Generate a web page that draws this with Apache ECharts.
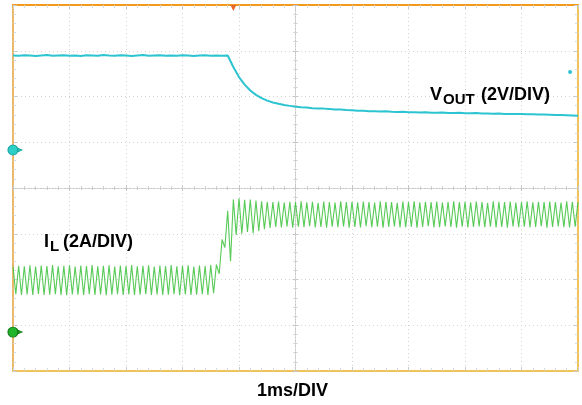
<!DOCTYPE html>
<html><head><meta charset="utf-8">
<script src="https://cdn.jsdelivr.net/npm/echarts@6/dist/echarts.min.js"></script>
<style>html,body{margin:0;padding:0;background:#fff}#c{width:582px;height:405px}</style>
</head><body><div id="c"></div>
<script>
const timeRangeMs = [0, 10];          // 10 divisions, 1 ms/DIV
const divRange = [-4, 4];             // 8 vertical divisions
const voutSampleMs = 0.1;
const voutVolts = [
  4.13,4.12,4.14,4.13,4.11,4.13,4.15,4.12,4.13,4.14,
  4.12,4.13,4.11,4.14,4.13,4.12,4.15,4.13,4.12,4.14,
  4.13,4.11,4.13,4.15,4.12,4.13,4.14,4.12,4.13,4.12,
  4.14,4.13,4.11,4.13,4.14,4.12,4.13,4.12,4.13,
  3.63,3.19,2.86,2.60,2.41,2.27,2.16,2.08,2.02,1.97,1.93,1.89,
  1.87,1.86,1.83,1.82,1.81,1.79,1.77,1.77,1.75,1.74,
  1.72,1.72,1.70,1.69,1.68,1.69,1.67,1.66,1.67,1.65,
  1.65,1.64,1.65,1.63,1.63,1.64,1.62,1.62,1.63,1.61,
  1.61,1.62,1.60,1.60,1.59,1.60,1.58,1.58,1.57,1.58,
  1.56,1.56,1.55,1.55,1.54,1.53,1.53,1.52,1.51,1.50
];
const ilSampleMs = 0.05;
const ilAmps = [
  2.86,1.66,2.90,1.62,2.88,1.65,2.92,1.63,2.87,1.67,
  2.91,1.62,2.89,1.64,2.93,1.66,2.88,1.63,2.90,1.61,
  2.92,1.65,2.87,1.64,2.91,1.62,2.89,1.66,2.93,1.63,
  2.88,1.65,2.90,1.61,2.92,1.64,2.87,1.66,2.91,1.63,
  2.89,1.65,2.93,1.62,2.88,1.64,2.90,1.66,2.92,1.63,
  2.87,1.65,2.91,1.62,2.89,1.64,2.93,1.66,2.88,1.61,
  2.90,1.65,2.92,1.63,2.87,1.64,2.91,1.66,2.89,1.62,
  2.93,1.70,
  2.95,2.55,4.05,3.70,5.30,3.10,5.80,4.25,5.85,4.30,
  5.78,4.38,5.80,4.32,5.75,4.42,5.72,4.50,5.70,4.55,
  5.68,4.60,5.71,4.58,5.66,4.62,5.70,4.57,5.69,4.61,
  5.72,4.59,5.67,4.63,5.70,4.58,5.65,4.60,5.71,4.56,
  5.69,4.61,5.66,4.59,5.72,4.62,5.68,4.57,5.70,4.60,
  5.67,4.58,5.71,4.63,5.69,4.59,5.66,4.61,5.72,4.57,
  5.70,4.60,5.68,4.62,5.65,4.58,5.71,4.59,5.69,4.61,
  5.72,4.57,5.67,4.60,5.70,4.63,5.68,4.58,5.71,4.59,
  5.66,4.62,5.69,4.60,5.72,4.57,5.68,4.61,5.70,4.58,
  5.67,4.60,5.71,4.62,5.69,4.59,5.65,4.61,5.72,4.58,
  5.70,4.60,5.68,4.57,5.71,4.62,5.66,4.59,5.69,4.61,
  5.72,4.58,5.67,4.60,5.70,4.63,5.68,4.57,5.71,4.60,
  5.69,4.62,5.66,4.59,5.72,4.58,5.70,4.61,5.68
];
// channel scales: 2 V/DIV and 2 A/DIV, grounds offset from screen centre
const voutAxisRange = [-9.66, 6.34];
const ilAxisRange = [-1.70, 14.30];
const triggerTimeMs = 3.9;
const triggerLevelV = 3.41;
const labels = { vout: ['V', 'OUT', '(2V/DIV)'], il: ['I', 'L', '(2A/DIV)'], time: '1ms/DIV' };

// ---- Build ----
const voutData = voutVolts.map((v, i) => [+(i * voutSampleMs).toFixed(3), v]);
const ilData = ilAmps.map((v, i) => [+(i * ilSampleMs).toFixed(3), v]);

const GRIDC = '#d2d2d2';
function borderX(pos, color, split) {
  return { type: 'value', min: timeRangeMs[0], max: timeRangeMs[1], interval: 1, position: pos,
    axisLine: { show: true, onZero: false, lineStyle: { color: color, width: 2 } },
    axisTick: { show: true, inside: true, length: 4, lineStyle: { color: '#cccccc' } },
    minorTick: { show: true, splitNumber: 5, length: 3, lineStyle: { color: '#d8d8d8' } },
    axisLabel: { show: false },
    splitLine: { show: split, lineStyle: { color: GRIDC, type: [1, 3], width: 1 } } };
}
function borderY(pos, color, split) {
  return { type: 'value', min: divRange[0], max: divRange[1], interval: 1, position: pos,
    axisLine: { show: true, onZero: false, lineStyle: { color: color, width: 2 } },
    axisTick: { show: true, inside: true, length: 4, lineStyle: { color: '#cccccc' } },
    minorTick: { show: true, splitNumber: 5, length: 3, lineStyle: { color: '#d8d8d8' } },
    axisLabel: { show: false },
    splitLine: { show: split, lineStyle: { color: GRIDC, type: [1, 3], width: 1 } } };
}
function centerX(inside) {
  return { type: 'value', min: timeRangeMs[0], max: timeRangeMs[1], interval: 1,
    axisLine: { show: true, onZero: true, onZeroAxisIndex: 0, lineStyle: { color: '#c6c6c6', type: [1, 2] } },
    axisTick: { show: true, inside: inside, length: 3, lineStyle: { color: '#c6c6c6' } },
    minorTick: { show: true, splitNumber: 5, length: 2, lineStyle: { color: '#cfcfcf' } },
    axisLabel: { show: false }, splitLine: { show: false } };
}
function centerY(inside) {
  return { type: 'value', min: divRange[0], max: divRange[1], interval: 1,
    axisLine: { show: true, onZero: true, onZeroAxisIndex: 4, lineStyle: { color: '#c6c6c6', type: [1, 2] } },
    axisTick: { show: true, inside: inside, length: 3, lineStyle: { color: '#c6c6c6' } },
    minorTick: { show: true, splitNumber: 5, length: 2, lineStyle: { color: '#cfcfcf' } },
    axisLabel: { show: false }, splitLine: { show: false } };
}
const markerPath = 'path://M5,0 A5,5 0 1,1 5,10 A5,5 0 1,1 5,0 Z M9.5,3 L14,5 L9.5,7 Z';
const FONT = '"Liberation Sans", Arial, sans-serif';
function txt(x, y, s, size) {
  return { type: 'text', x: x, y: y, z: 100,
    style: { text: s, font: 'bold ' + size + 'px ' + FONT, fill: '#000', align: 'left', verticalAlign: 'middle' } };
}

const chart = echarts.init(document.getElementById('c'), null, { renderer: 'canvas' });
chart.setOption({
  animation: false,
  backgroundColor: '#ffffff',
  grid: { left: 13, right: 4, top: 5, bottom: 34 },
  xAxis: [
    borderX('bottom', '#f0c25a', true),
    borderX('top', '#f39a1c', false),
    centerX(false),
    centerX(true),
    { type: 'value', min: -5, max: 5, show: false, axisLine: { onZero: false } }
  ],
  yAxis: [
    borderY('left', '#ebb869', true),
    borderY('right', '#f0c25a', false),
    { type: 'value', min: voutAxisRange[0], max: voutAxisRange[1], show: false, axisLine: { onZero: false } },
    { type: 'value', min: ilAxisRange[0], max: ilAxisRange[1], show: false, axisLine: { onZero: false } },
    centerY(false),
    centerY(true)
  ],
  series: [
    { name: 'IL', type: 'line', xAxisIndex: 0, yAxisIndex: 3, data: ilData, showSymbol: false, z: 5,
      lineStyle: { color: '#46c446', width: 1.1, opacity: 0.9 },
      markPoint: { silent: true, data: [
        { coord: [0, 0], symbol: markerPath, symbolSize: [14, 10], symbolOffset: [2, 0],
          itemStyle: { color: '#22b42a', borderColor: '#127a18', borderWidth: 1 }, label: { show: false } }
      ] } },
    { name: 'VOUT', type: 'line', xAxisIndex: 0, yAxisIndex: 2, data: voutData, showSymbol: false, z: 6,
      lineStyle: { color: '#2cc4d0', width: 2 },
      markPoint: { silent: true, data: [
        { coord: [0, 0], symbol: markerPath, symbolSize: [14, 10], symbolOffset: [2, 0],
          itemStyle: { color: '#2ccfc8', borderColor: '#1aa7a2', borderWidth: 1 }, label: { show: false } },
        { coord: [triggerTimeMs, voutAxisRange[1]], symbol: 'triangle', symbolRotate: 180, symbolSize: 6, symbolOffset: [0, 3],
          itemStyle: { color: '#e8682a' }, label: { show: false } },
        { coord: [9.86, triggerLevelV], symbol: 'circle', symbolSize: 4,
          itemStyle: { color: '#2cc4d0' }, label: { show: false } }
      ] } }
  ],
  graphic: [
    txt(430, 95, labels.vout[0], 18),
    txt(443, 100, labels.vout[1], 15),
    txt(481, 95, labels.vout[2], 18),
    txt(44, 242, labels.il[0], 18),
    txt(50, 247, labels.il[1], 15),
    txt(63, 242, labels.il[2], 18),
    txt(257, 391, labels.time, 18)
  ]
});
</script>
</body></html>
